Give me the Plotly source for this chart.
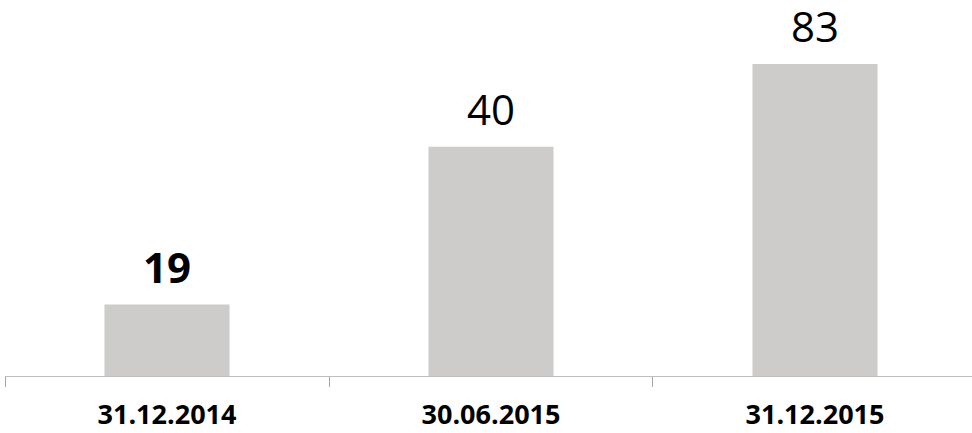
import plotly.graph_objects as go

categories = ["31.12.2014", "30.06.2015", "31.12.2015"]
bar_heights = [19, 61, 83]          # drawn bar heights
value_labels = ["19", "40", "83"]   # printed labels
label_bold = [True, False, False]

fig = go.Figure()
fig.add_trace(go.Bar(
    x=categories, y=bar_heights,
    marker=dict(color="#CDCCCA", line=dict(width=0)),
    width=0.386, hoverinfo="skip",
))

for c, h, t, b in zip(categories, bar_heights, value_labels, label_bold):
    fig.add_annotation(
        x=c, y=h, text=f"<b>{t}</b>" if b else t, showarrow=False,
        yanchor="bottom", yshift=8,
        font=dict(family="Open Sans", size=42, color="#000000"),
    )

fig.update_layout(
    width=972, height=433,
    margin=dict(l=5, r=0, t=0, b=57, autoexpand=False),
    paper_bgcolor="white", plot_bgcolor="white",
    showlegend=False,
    xaxis=dict(
        range=[-0.5, 2.4846], automargin=False,
        showline=True, linecolor="#BFBFBF", linewidth=1,
        ticks="outside", ticklen=10, tickcolor="#A6A6A6", tickwidth=1,
        tickson="boundaries", ticklabelstandoff=15,
        tickfont=dict(family="Open Sans", size=27, color="#000000", weight="bold"),
        showgrid=False, zeroline=False,
    ),
    yaxis=dict(range=[0, 100], visible=False, showgrid=False, zeroline=False,
               automargin=False),
)

fig.write_html(
    "out.html",
    config={"displayModeBar": False, "staticPlot": True},
    post_script="document.body.style.margin='0';document.body.style.padding='0';",
)
